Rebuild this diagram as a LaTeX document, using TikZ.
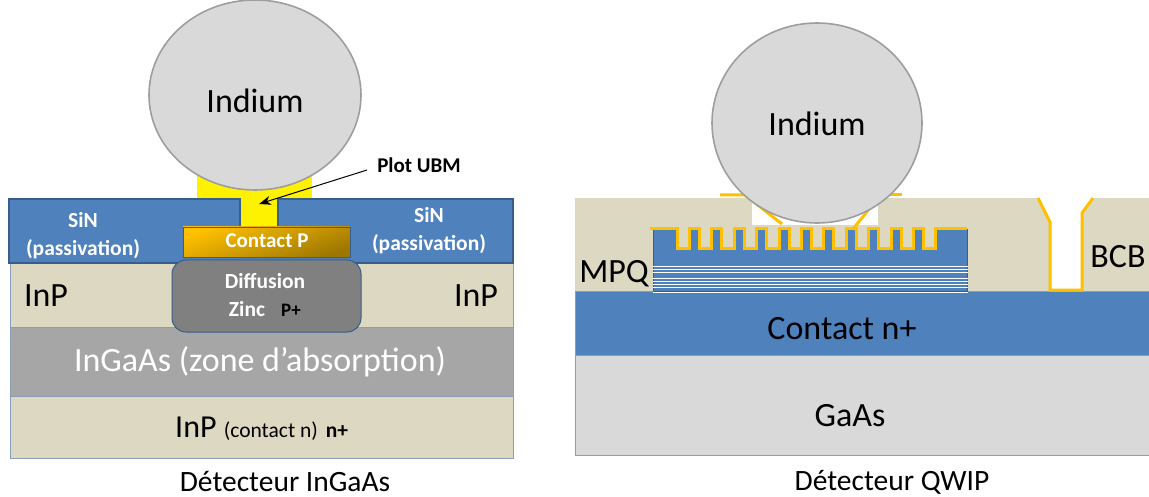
\documentclass[tikz,border=0pt]{standalone}
\usepackage{fontspec}
\setmainfont{Carlito}
\usetikzlibrary{arrows.meta,shapes.geometric}
\definecolor{sand}{HTML}{DDD8C2}
\definecolor{bluelayer}{HTML}{4F81BD}
\definecolor{blueline}{HTML}{385D8A}
\definecolor{goldline}{HTML}{FFC000}
\definecolor{ball}{HTML}{D9D9D9}
\tikzset{
  layer/.style={draw=blueline!60,line width=0.8pt},
  ballnode/.style={ellipse,draw=black!38,fill=ball,line width=1.6pt,inner sep=0pt},
  gold/.style={draw=goldline,line width=3pt,line join=miter},
  big/.style={font=\fontsize{34}{36}\selectfont,inner sep=0pt},
  tiny/.style={font=\fontsize{21.5}{28}\selectfont\bfseries,align=center,inner sep=0pt},
  caption/.style={font=\fontsize{29.5}{31}\selectfont,inner sep=0pt}
}
\begin{document}
\begin{tikzpicture}[x=1pt,y=-1pt]
  \useasboundingbox (0,0) rectangle (1149,497);
  % left detector
  \fill[yellow] (197,170) rectangle (312,198);
  \fill[yellow] (240,195) rectangle (278,228);
  \draw[layer,fill=sand] (10,396) rectangle (513,458);
  \draw[layer,fill=black!35] (10,327) rectangle (513,396);
  \draw[layer,fill=sand] (10,263) rectangle (513,327);
  \draw[blueline,fill=bluelayer,line width=1.6pt] (9,199) -- (240,199) -- (240,228) -- (278,228) -- (278,199) -- (513,199) -- (513,263) -- (9,263) -- cycle;
  \shade[top color=goldline,bottom color=goldline!62!black,shading angle=20,draw=blueline,line width=0.8pt] (183,227) rectangle (350,257);
  \draw[blueline,fill=black!50,line width=1pt,rounded corners=14pt] (172,260) rectangle (361,332);
  \node[ballnode,minimum width=212pt,minimum height=190pt] (indiuml) at (255,95) {};
  \node[big] (indiumltxt) at (255,101) {Indium};
  \node[tiny,text=white] (sinl) at (83,236) {SiN\\(passivation)};
  \node[tiny,text=white] (sinr) at (429,231) {SiN\\(passivation)};
  \node[tiny,text=white,font=\fontsize{21}{23}\selectfont\bfseries] (contactp) at (267,241) {Contact P};
  \node[tiny,text=white] (diffusion) at (265,281) {Diffusion};
  \node[tiny,text=white] (zinc) at (247,309) {Zinc};
  \node[tiny,font=\fontsize{19}{21}\selectfont\bfseries] (pplus) at (291,310) {P+};
  \node[big] (inpl) at (46,296) {InP};
  \node[big] (inpr) at (476,296) {InP};
  \node[big,text=white] (ingaas) at (260,362) {InGaAs (zone d’absorption)};
  \node[anchor=base west,inner sep=0pt] (inpn) at (175,437) {\fontsize{32}{34}\selectfont InP \fontsize{21.5}{23}\selectfont(contact n)\hspace{8pt}\bfseries n+};
  \node[tiny,font=\fontsize{21}{23}\selectfont\bfseries] (plotubm) at (419,165) {Plot UBM};
  \coordinate (ubmtip) at (259,204);
  \draw[-{Stealth[length=12pt,width=9pt]},line width=1pt] (plotubm.west)+(-10,5) -- (ubmtip);
  \node[caption] (captionl) at (285,482) {Détecteur InGaAs};
  % right detector
  \draw[layer,fill=ball] (575,355) rectangle (1149,455);
  \draw[layer,fill=bluelayer] (575,291) rectangle (1149,355);
  \fill[sand] (575,198) rectangle (1149,291);
  \fill[white] (752,198) rectangle (878,225);
  \fill[white] (1038,198) -- (1050,222) -- (1050,291) -- (1082,291) -- (1082,213) -- (1093,198) -- cycle;
  \draw[gold] (1038,198) -- (1050,222) -- (1050,290) -- (1082,290) -- (1082,213) -- (1093,198);
  \draw[gold] (720,195) -- (745,195) -- (782,224);
  \draw[gold] (885,195) -- (902,195);
  \draw[gold] (853,229) -- (878,198);
  \fill[bluelayer] (653,229) rectangle (967,291);
  \draw[blueline] (653,229) -- (653,291) -- (967,291) -- (967,229);
  \foreach \i in {0,...,11}
    \fill[sand] ({677+22.4*\i},229) rectangle ++(12.4,20);
  \draw[gold] (650,229) foreach \i in {0,...,11} { -- ({677+22.4*\i},229) -- ({677+22.4*\i},249) -- ({689.4+22.4*\i},249) -- ({689.4+22.4*\i},229) } -- (967,229);
  \foreach \y in {266,269,272,278,281,284,287,292}
    \draw[white,line width=0.9pt] (653,\y) -- (968,\y);
  \node[ballnode,minimum width=210pt,minimum height=200pt] (indiumr) at (817,123) {};
  \node[big] (indiumrtxt) at (817,124) {Indium};
  \node[big] (mpq) at (614,274) {MPQ};
  \node[big] (bcb) at (1118,257) {BCB};
  \node[big] (contactn) at (842,329) {Contact n+};
  \node[big] (gaas) at (850,416) {GaAs};
  \node[caption] (captionr) at (892,482) {Détecteur QWIP};
\end{tikzpicture}
\end{document}
